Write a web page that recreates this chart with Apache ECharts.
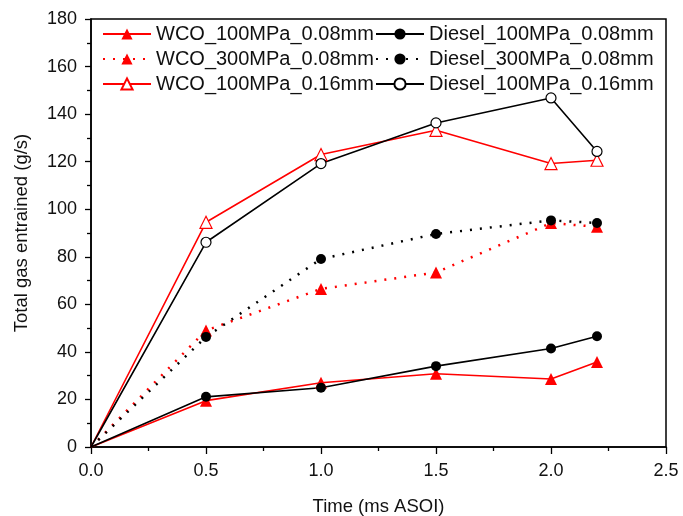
<!DOCTYPE html>
<html>
<head>
<meta charset="utf-8">
<script src="https://cdn.jsdelivr.net/npm/echarts@6/dist/echarts.min.js"></script>
<style>
html,body{margin:0;padding:0;background:#fff;}
#chart{width:683px;height:516px;}
</style>
</head>
<body>
<div id="chart"></div>
<script>
// ---- data ----
const time = [0, 0.5, 1.0, 1.5, 2.0, 2.2];
const wco100_008 = [0, 19.5, 27, 30.8, 28.6, 35.8];
const wco300_008 = [0, 49, 66.5, 73.4, 94.2, 92.6];
const wco100_016 = [0, 94.5, 123, 133.2, 119.2, 120.6];
const dsl100_008 = [0, 21.1, 24.9, 34, 41.4, 46.6];
const dsl300_008 = [0, 46.3, 79.1, 89.6, 95.3, 94.2];
const dsl100_016 = [0, 86.1, 119.2, 136.3, 146.8, 124.3];
const seriesNames = ['WCO_100MPa_0.08mm', 'WCO_300MPa_0.08mm', 'WCO_100MPa_0.16mm',
                     'Diesel_100MPa_0.08mm', 'Diesel_300MPa_0.08mm', 'Diesel_100MPa_0.16mm'];
const xTicks = [0, 0.5, 1.0, 1.5, 2.0, 2.5];
const yTicks = [0, 20, 40, 60, 80, 100, 120, 140, 160, 180];

const FONT = '"Liberation Sans", Arial, sans-serif';
const RED = '#ff0000';
const BLK = '#000000';

function pairs(ys) { return time.map((t, i) => [t, ys[i]]); }
function mk(name, ys, color, dotted, symbol, hollow, size) {
  return {
    name: name,
    type: 'line',
    data: pairs(ys),
    symbol: symbol,
    symbolSize: function (v, p) { return p.dataIndex === 0 ? 0 : size; },
    showAllSymbol: true,
    lineStyle: { color: color, width: dotted ? 2.5 : 1.6, type: dotted ? [2, 8] : 'solid', cap: 'butt' },
    itemStyle: { color: hollow ? '#ffffff' : color, borderColor: color, borderWidth: hollow ? 1.2 : 0 },
    emphasis: { disabled: true },
    animation: false
  };
}

const chart = echarts.init(document.getElementById('chart'), null, { renderer: 'canvas' });
const legendCommon = {
  orient: 'vertical',
  itemWidth: 48,
  itemHeight: 14,
  itemGap: 5,
  textStyle: { fontFamily: FONT, fontSize: 20, color: '#111', lineHeight: 19 },
  padding: 0,
  selectedMode: false
};
chart.setOption({
  backgroundColor: '#ffffff',
  animation: false,
  grid: { left: 91, right: 17, top: 19, bottom: 69, outerBoundsMode: 'none', containLabel: false,
          show: true, borderColor: '#000', borderWidth: 1.5, backgroundColor: 'transparent' },
  legend: [
    Object.assign({}, legendCommon, { left: 102, top: 24, data: seriesNames.slice(0, 3) }),
    Object.assign({}, legendCommon, { left: 375, top: 24, data: seriesNames.slice(3, 6) })
  ],
  xAxis: {
    type: 'value', min: 0, max: 2.5, interval: 0.5,
    name: 'Time (ms ASOI)', nameLocation: 'middle', nameGap: 50,
    nameTextStyle: { fontFamily: FONT, fontSize: 18.5, color: '#111' },
    axisLine: { show: true, onZero: false, lineStyle: { color: '#000', width: 1.5 } },
    axisTick: { show: true, inside: false, length: 7, lineStyle: { color: '#000', width: 1.3 } },
    minorTick: { show: true, splitNumber: 2, length: 4, lineStyle: { color: '#000', width: 1.3 } },
    splitLine: { show: false },
    axisLabel: { fontFamily: FONT, fontSize: 18, color: '#111', margin: 15,
      formatter: function (v) { return v.toFixed(1); } }
  },
  yAxis: {
    type: 'value', min: 0, max: 180, interval: 20,
    name: 'Total gas entrained (g/s)', nameLocation: 'middle', nameGap: 60, nameRotate: 90,
    nameTextStyle: { fontFamily: FONT, fontSize: 18.5, color: '#111' },
    axisLine: { show: true, onZero: false, lineStyle: { color: '#000', width: 1.5 } },
    axisTick: { show: true, inside: false, length: 6, lineStyle: { color: '#000', width: 1.3 } },
    minorTick: { show: true, splitNumber: 2, length: 4, lineStyle: { color: '#000', width: 1.3 } },
    splitLine: { show: false },
    axisLabel: { fontFamily: FONT, fontSize: 18, color: '#111', margin: 14 }
  },
  series: [
    mk(seriesNames[0], wco100_008, RED, false, 'triangle', false, 12),
    mk(seriesNames[1], wco300_008, RED, true, 'triangle', false, 12),
    mk(seriesNames[2], wco100_016, RED, false, 'triangle', true, 12),
    mk(seriesNames[3], dsl100_008, BLK, false, 'circle', false, 10),
    mk(seriesNames[4], dsl300_008, BLK, true, 'circle', false, 10),
    mk(seriesNames[5], dsl100_016, BLK, false, 'circle', true, 10)
  ]
});
</script>
</body>
</html>
